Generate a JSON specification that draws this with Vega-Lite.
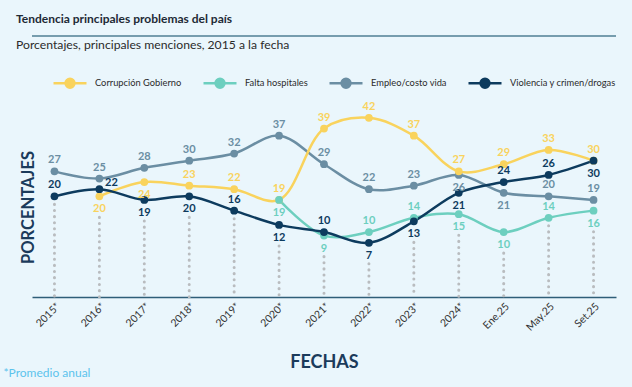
{
  "$schema": "https://vega.github.io/schema/vega-lite/v6.json",
  "width": 584,
  "height": 202,
  "autosize": {"type": "none"},
  "padding": {"left": 32, "top": 95, "right": 16, "bottom": 90},
  "background": "#eaf6fc",
  "title": {
    "text": "Tendencia principales problemas del país",
    "subtitle": "Porcentajes, principales menciones, 2015 a la fecha",
    "anchor": "start",
    "frame": "group",
    "dx": -16,
    "offset": -17,
    "font": "Lato",
    "fontSize": 12,
    "fontWeight": "bold",
    "color": "#1e2a36",
    "subtitleFont": "Lato",
    "subtitleFontSize": 12.2,
    "subtitleColor": "#2b2b2b",
    "subtitlePadding": 13
  },
  "config": {
    "view": {"stroke": null},
    "font": "Lato",
    "axisY": {
      "labels": false,
      "ticks": false,
      "domain": false,
      "grid": false,
      "titleFont": "Lato",
      "titleFontSize": 16.5,
      "titleFontWeight": "bold",
      "titleColor": "#1b3b5b",
      "titleAngle": 270,
      "titleAlign": "center",
      "titleBaseline": "middle",
      "titleX": -4,
      "titleY": 112
    }
  },
  "data": {
    "values": [
      {"fecha": "2015*", "serie": "Empleo/costo vida", "valor": 27, "lado": "arriba"},
      {"fecha": "2016*", "serie": "Empleo/costo vida", "valor": 25, "lado": "arriba"},
      {"fecha": "2017*", "serie": "Empleo/costo vida", "valor": 28, "lado": "arriba"},
      {"fecha": "2018*", "serie": "Empleo/costo vida", "valor": 30, "lado": "arriba"},
      {"fecha": "2019*", "serie": "Empleo/costo vida", "valor": 32, "lado": "arriba"},
      {"fecha": "2020*", "serie": "Empleo/costo vida", "valor": 37, "lado": "arriba"},
      {"fecha": "2021*", "serie": "Empleo/costo vida", "valor": 29, "lado": "arriba"},
      {"fecha": "2022*", "serie": "Empleo/costo vida", "valor": 22, "lado": "arriba"},
      {"fecha": "2023*", "serie": "Empleo/costo vida", "valor": 23, "lado": "arriba"},
      {"fecha": "2024*", "serie": "Empleo/costo vida", "valor": 26, "lado": "abajo"},
      {"fecha": "Ene.25", "serie": "Empleo/costo vida", "valor": 21, "lado": "abajo"},
      {"fecha": "May.25", "serie": "Empleo/costo vida", "valor": 20, "lado": "arriba"},
      {"fecha": "Set.25", "serie": "Empleo/costo vida", "valor": 19, "lado": "arriba"},
      {"fecha": "2016*", "serie": "Corrupción Gobierno", "valor": 20, "lado": "abajo"},
      {"fecha": "2017*", "serie": "Corrupción Gobierno", "valor": 24, "lado": "abajo"},
      {"fecha": "2018*", "serie": "Corrupción Gobierno", "valor": 23, "lado": "arriba"},
      {"fecha": "2019*", "serie": "Corrupción Gobierno", "valor": 22, "lado": "arriba"},
      {"fecha": "2020*", "serie": "Corrupción Gobierno", "valor": 19, "lado": "arriba"},
      {"fecha": "2021*", "serie": "Corrupción Gobierno", "valor": 39, "lado": "arriba"},
      {"fecha": "2022*", "serie": "Corrupción Gobierno", "valor": 42, "lado": "arriba"},
      {"fecha": "2023*", "serie": "Corrupción Gobierno", "valor": 37, "lado": "arriba"},
      {"fecha": "2024*", "serie": "Corrupción Gobierno", "valor": 27, "lado": "arriba"},
      {"fecha": "Ene.25", "serie": "Corrupción Gobierno", "valor": 29, "lado": "arriba"},
      {"fecha": "May.25", "serie": "Corrupción Gobierno", "valor": 33, "lado": "arriba"},
      {"fecha": "Set.25", "serie": "Corrupción Gobierno", "valor": 30, "lado": "arriba"},
      {"fecha": "2020*", "serie": "Falta hospitales", "valor": 19, "lado": "abajo"},
      {"fecha": "2021*", "serie": "Falta hospitales", "valor": 9, "lado": "abajo"},
      {"fecha": "2022*", "serie": "Falta hospitales", "valor": 10, "lado": "arriba"},
      {"fecha": "2023*", "serie": "Falta hospitales", "valor": 14, "lado": "arriba"},
      {"fecha": "2024*", "serie": "Falta hospitales", "valor": 15, "lado": "abajo"},
      {"fecha": "Ene.25", "serie": "Falta hospitales", "valor": 10, "lado": "abajo"},
      {"fecha": "May.25", "serie": "Falta hospitales", "valor": 14, "lado": "arriba"},
      {"fecha": "Set.25", "serie": "Falta hospitales", "valor": 16, "lado": "abajo"},
      {"fecha": "2015*", "serie": "Violencia y crimen/drogas", "valor": 20, "lado": "arriba"},
      {"fecha": "2016*", "serie": "Violencia y crimen/drogas", "valor": 22, "lado": "derecha"},
      {"fecha": "2017*", "serie": "Violencia y crimen/drogas", "valor": 19, "lado": "abajo"},
      {"fecha": "2018*", "serie": "Violencia y crimen/drogas", "valor": 20, "lado": "abajo"},
      {"fecha": "2019*", "serie": "Violencia y crimen/drogas", "valor": 16, "lado": "arriba"},
      {"fecha": "2020*", "serie": "Violencia y crimen/drogas", "valor": 12, "lado": "abajo"},
      {"fecha": "2021*", "serie": "Violencia y crimen/drogas", "valor": 10, "lado": "arriba"},
      {"fecha": "2022*", "serie": "Violencia y crimen/drogas", "valor": 7, "lado": "abajo"},
      {"fecha": "2023*", "serie": "Violencia y crimen/drogas", "valor": 13, "lado": "abajo"},
      {"fecha": "2024*", "serie": "Violencia y crimen/drogas", "valor": 21, "lado": "abajo"},
      {"fecha": "Ene.25", "serie": "Violencia y crimen/drogas", "valor": 24, "lado": "arriba"},
      {"fecha": "May.25", "serie": "Violencia y crimen/drogas", "valor": 26, "lado": "arriba"},
      {"fecha": "Set.25", "serie": "Violencia y crimen/drogas", "valor": 30, "lado": "abajo"}
    ]
  },
  "resolve": {"axis": {"x": "independent"}},
  "layer": [
    {
      "data": {"values": [{}]},
      "mark": {"type": "rule", "color": "#4f7f95", "strokeWidth": 1.5},
      "encoding": {
        "y": {"datum": 64.9, "type": "quantitative", "scale": {"domain": [-8.2, 48.4], "nice": false, "zero": false}, "title": "PORCENTAJES"}
      }
    },
    {
      "transform": [
        {"window": [{"op": "row_number", "as": "rk"}], "groupby": ["fecha"], "sort": [{"field": "valor", "order": "ascending"}]},
        {"filter": "datum.rk == 1 && datum.lado == 'abajo'"}
      ],
      "mark": {"type": "rule", "color": "#b9bcbf", "strokeWidth": 3, "strokeDash": [0.1, 6], "strokeCap": "round", "yOffset": 21},
      "encoding": {
        "x": {
          "field": "fecha", "type": "nominal",
          "scale": {"type": "point", "padding": 0.5, "domain": ["2015*", "2016*", "2017*", "2018*", "2019*", "2020*", "2021*", "2022*", "2023*", "2024*", "Ene.25", "May.25", "Set.25"]},
          "axis": {
            "orient": "bottom",
            "title": "FECHAS",
            "labelAngle": -45,
            "labelFontSize": 10.5,
            "labelColor": "#333333",
            "labelPadding": 4,
            "ticks": false,
            "grid": false,
            "domainColor": "#2f5e78",
            "domainWidth": 1.5,
            "titleFontSize": 18,
            "titleFontWeight": "bold",
            "titleColor": "#1b3b5b",
            "titleY": 65,
            "titleBaseline": "middle"
          }
        },
        "y": {"field": "valor", "type": "quantitative", "title": "PORCENTAJES"},
        "y2": {"datum": -8.2}
      }
    },
    {
      "transform": [
        {"window": [{"op": "row_number", "as": "rk"}], "groupby": ["fecha"], "sort": [{"field": "valor", "order": "ascending"}]},
        {"filter": "datum.rk == 1 && datum.lado != 'abajo'"}
      ],
      "mark": {"type": "rule", "color": "#b9bcbf", "strokeWidth": 3, "strokeDash": [0.1, 6], "strokeCap": "round", "yOffset": 8},
      "encoding": {
        "x": {"field": "fecha", "type": "nominal", "axis": null},
        "y": {"field": "valor", "type": "quantitative", "title": "PORCENTAJES"},
        "y2": {"datum": -8.2}
      }
    },
    {
      "mark": {"type": "line", "interpolate": "catmull-rom", "strokeWidth": 2.5},
      "encoding": {
        "x": {"field": "fecha", "type": "nominal", "axis": null},
        "y": {"field": "valor", "type": "quantitative", "title": "PORCENTAJES"},
        "color": {
          "field": "serie", "type": "nominal",
          "scale": {
            "domain": ["Corrupción Gobierno", "Falta hospitales", "Empleo/costo vida", "Violencia y crimen/drogas"],
            "range": ["#f9d35d", "#6dcfbf", "#6b8ea3", "#0d3b5e"]
          },
          "legend": {
            "orient": "none",
            "legendX": 20,
            "legendY": -30,
            "direction": "horizontal",
            "title": null,
            "symbolType": "M-1,0L1,0M-0.27,0A0.27,0.27,0,1,0,0.27,0A0.27,0.27,0,1,0,-0.27,0Z",
            "symbolSize": 1089,
            "symbolStrokeWidth": 2.5,
            "labelFontSize": 9.3,
            "labelColor": "#2b2b2b",
            "labelOffset": 7,
            "columnPadding": 16,
            "encode": {
              "symbols": {
                "update": {
                  "fill": {"scale": "color", "field": "value"},
                  "stroke": {"scale": "color", "field": "value"},
                  "strokeWidth": {"value": 2.5},
                  "opacity": {"value": 1}
                }
              }
            }
          }
        }
      }
    },
    {
      "mark": {"type": "circle", "size": 60, "opacity": 1},
      "encoding": {
        "x": {
          "field": "fecha", "type": "nominal",
          "axis": {
            "orient": "bottom",
            "title": "*Promedio anual",
            "labels": false,
            "ticks": false,
            "domain": false,
            "grid": false,
            "titleFontSize": 12,
            "titleFontWeight": "normal",
            "titleColor": "#5cc3ec",
            "titleAnchor": "start",
            "titleAlign": "left",
            "titleBaseline": "middle",
            "titleX": -29,
            "titleY": 75
          }
        },
        "y": {"field": "valor", "type": "quantitative", "title": "PORCENTAJES"},
        "color": {"field": "serie", "type": "nominal"}
      }
    },
    {
      "transform": [{"filter": "datum.lado == 'arriba'"}],
      "mark": {"type": "text", "dy": -11, "fontSize": 11, "fontWeight": "bold"},
      "encoding": {
        "x": {"field": "fecha", "type": "nominal", "axis": null},
        "y": {"field": "valor", "type": "quantitative", "title": "PORCENTAJES"},
        "text": {"field": "valor", "type": "quantitative"},
        "color": {"field": "serie", "type": "nominal"}
      }
    },
    {
      "transform": [{"filter": "datum.lado == 'abajo'"}],
      "mark": {"type": "text", "dy": 13, "fontSize": 11, "fontWeight": "bold"},
      "encoding": {
        "x": {"field": "fecha", "type": "nominal", "axis": null},
        "y": {"field": "valor", "type": "quantitative", "title": "PORCENTAJES"},
        "text": {"field": "valor", "type": "quantitative"},
        "color": {"field": "serie", "type": "nominal"}
      }
    },
    {
      "transform": [{"filter": "datum.lado == 'derecha'"}],
      "mark": {"type": "text", "dy": -6, "dx": 12, "fontSize": 11, "fontWeight": "bold"},
      "encoding": {
        "x": {"field": "fecha", "type": "nominal", "axis": null},
        "y": {"field": "valor", "type": "quantitative", "title": "PORCENTAJES"},
        "text": {"field": "valor", "type": "quantitative"},
        "color": {"field": "serie", "type": "nominal"}
      }
    }
  ]
}
